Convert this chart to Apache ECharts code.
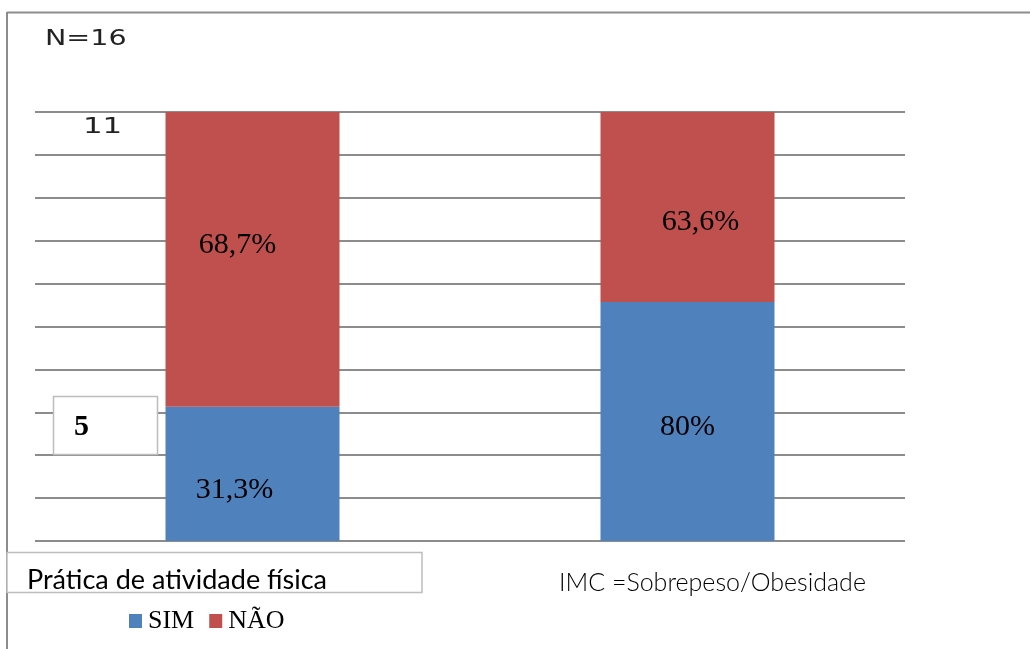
<!DOCTYPE html>
<html>
<head>
<meta charset="utf-8">
<script src="https://cdn.jsdelivr.net/npm/echarts@6/dist/echarts.min.js"></script>
<style>
  html, body { margin: 0; padding: 0; background: #fff; }
  #chart { width: 1030px; height: 649px; }
</style>
</head>
<body>
<div id="chart"></div>
<script>
// Categories on the x axis (labels are drawn below as free text)
const categories = ['Prática de atividade física', 'IMC =Sobrepeso/Obesidade'];
// Percentages reported for each group
const simValues = [31.3, 80];
const naoValues = [68.7, 63.6];
const seriesNames = ['SIM', 'NÃO'];
// Loose annotations around the plot
const sampleText = 'N=16';
const topCount = '11';
const bottomCount = '5';

// 100% stacked: each column is scaled to the sum of its two values
const totals = simValues.map((v, i) => v + naoValues[i]);
const share = (vals) => vals.map((v, i) => ({ value: v / totals[i] * 100, raw: v }));
const fmt = (p) => String(p.data.raw).replace('.', ',') + '%';

const BLUE = '#4F81BD';
const RED = '#C0504D';
const GRID = '#8c8c8c';

const labelFont = { fontFamily: 'Liberation Serif', fontSize: 30, color: '#000' };

const chart = echarts.init(document.getElementById('chart'));
chart.setOption({
  animation: false,
  backgroundColor: '#fff',
  grid: { left: 35, right: 125, top: 112, bottom: 108, containLabel: false },
  legend: {
    data: seriesNames,
    left: 124,
    top: 603,
    itemWidth: 13,
    itemHeight: 14,
    itemGap: 15,
    icon: 'rect',
    textStyle: { fontFamily: 'Liberation Serif', fontSize: 26, color: '#000', padding: [0, 0, 0, 1] }
  },
  xAxis: {
    type: 'category',
    data: categories,
    axisLine: { show: false },
    axisTick: { show: false },
    axisLabel: { show: false }
  },
  yAxis: {
    type: 'value',
    min: 0,
    max: 100,
    interval: 10,
    axisLine: { show: false },
    axisTick: { show: false },
    axisLabel: { show: false },
    splitLine: { lineStyle: { color: GRID, width: 2 } }
  },
  series: [
    {
      name: seriesNames[0],
      type: 'bar',
      stack: 'total',
      barWidth: 174,
      itemStyle: { color: BLUE },
      data: share(simValues),
      label: {
        show: true,
        position: 'inside',
        formatter: fmt,
        ...labelFont
      },
      labelLayout: (p) => ({ dx: p.dataIndex === 0 ? -18 : 0, dy: p.dataIndex === 0 ? 16 : 6 })
    },
    {
      name: seriesNames[1],
      type: 'bar',
      stack: 'total',
      barWidth: 174,
      itemStyle: { color: RED },
      data: share(naoValues),
      label: {
        show: true,
        position: 'inside',
        formatter: fmt,
        ...labelFont
      },
      labelLayout: (p) => ({ dx: p.dataIndex === 0 ? -15 : 13, dy: p.dataIndex === 0 ? -14 : 15 })
    }
  ],
  graphic: [
    // outer frame (top and left edges)
    { type: 'line', shape: { x1: 7, y1: 12.5, x2: 1030, y2: 12.5 }, style: { stroke: GRID, lineWidth: 2 } },
    { type: 'line', shape: { x1: 7, y1: 12, x2: 7, y2: 649 }, style: { stroke: GRID, lineWidth: 2 } },
    // sample size
    { type: 'text', x: 45, y: 40, scaleX: 1.36, style: { text: sampleText, font: '21px "DejaVu Sans"', fill: '#222', verticalAlign: 'middle' } },
    // count at top of scale
    { type: 'text', x: 83, y: 127, scaleX: 1.4, style: { text: topCount, font: '22px "DejaVu Sans"', fill: '#222', verticalAlign: 'middle' } },
    // boxed count
    { type: 'rect', shape: { x: 53.5, y: 396.5, width: 104, height: 58 }, style: { fill: '#fff', stroke: '#bdbdbd', lineWidth: 1.5 }, z: 10 },
    { type: 'text', x: 74, y: 427, z: 11, style: { text: bottomCount, font: 'bold 30px "Liberation Serif"', fill: '#000', verticalAlign: 'middle' } },
    // first category caption in a box
    { type: 'rect', shape: { x: 7, y: 552.5, width: 415, height: 40 }, style: { fill: '#fff', stroke: '#bdbdbd', lineWidth: 1.5 }, z: 10 },
    { type: 'text', x: 27, y: 580, z: 11, style: { text: categories[0], font: '27px Lato', fill: '#000', verticalAlign: 'middle' } },
    // second category caption
    { type: 'text', x: 559, y: 583, z: 11, style: { text: categories[1], font: '300 25px Lato', fill: '#000', verticalAlign: 'middle' } }
  ]
});
</script>
</body>
</html>
